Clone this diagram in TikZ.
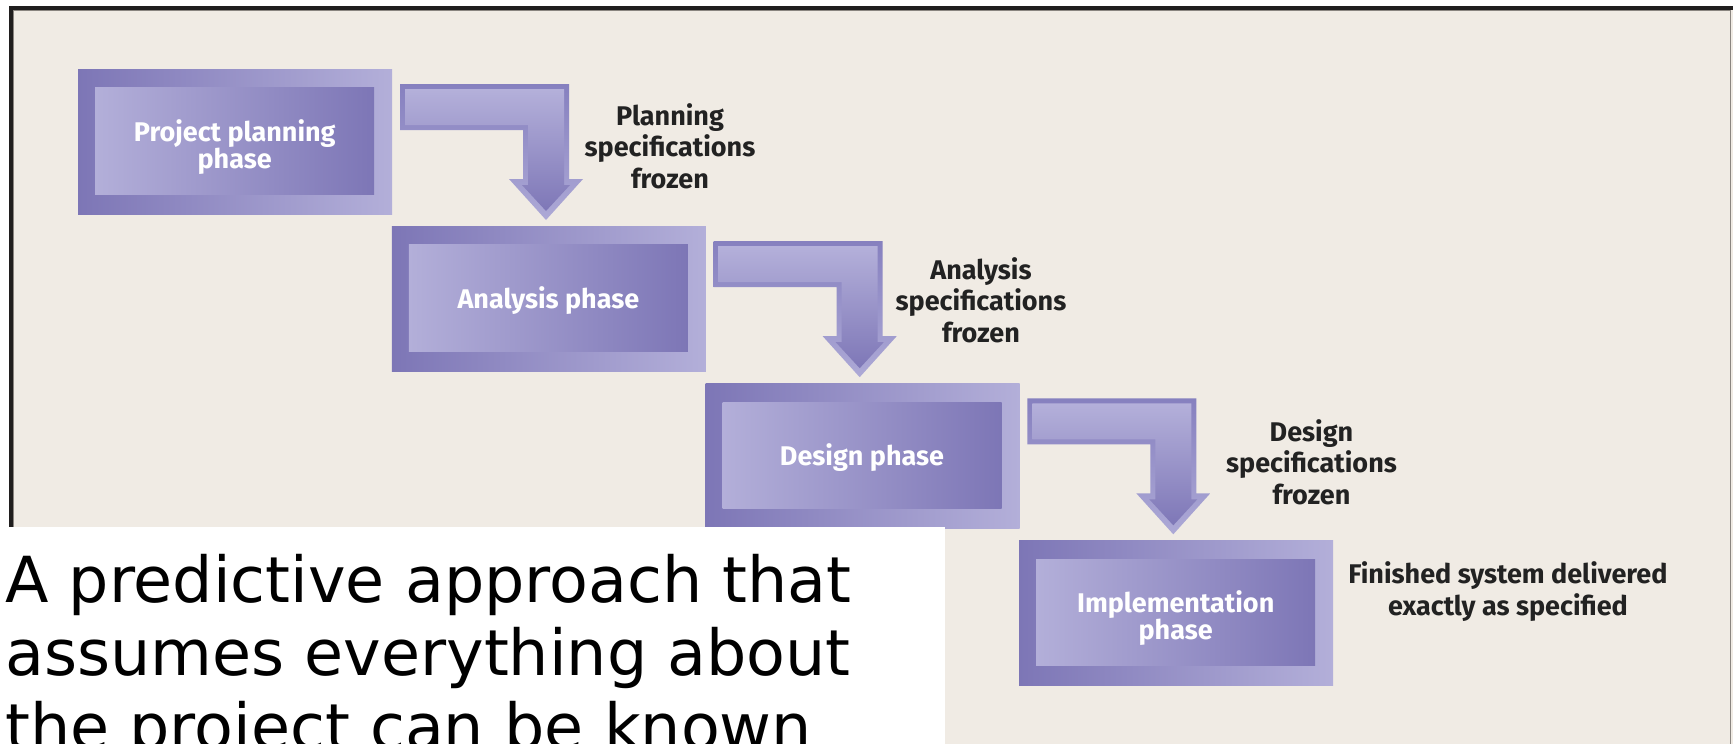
\documentclass[tikz,border=0pt]{standalone}
\usepackage{fontspec}
\setmainfont{Fira Sans}
\newfontfamily\bigfont{DejaVu Sans}
\usetikzlibrary{calc}
\definecolor{bg}{HTML}{F0EBE4}
\definecolor{pdark}{HTML}{7D76B6}
\definecolor{plight}{HTML}{B3AFD9}
\definecolor{abord}{HTML}{8680BF}
\definecolor{abordlight}{HTML}{ADA9D6}
\definecolor{ainlight}{HTML}{B4B0DA}
\definecolor{aindark}{HTML}{7E77B7}
\definecolor{txt}{HTML}{222222}
\definecolor{framedark}{HTML}{201E1E}
\definecolor{framegray}{HTML}{8A8580}
\tikzset{
  outerbox/.style={anchor=north west, minimum width=314pt, minimum height=145pt,
    inner sep=0pt, left color=pdark, right color=plight, draw=none},
  innerbox/.style={anchor=north west, minimum width=279pt, minimum height=106.5pt,
    inner sep=0pt, left color=plight, right color=pdark, draw=none},
  boxtext/.style={anchor=center, inner sep=0pt, text=white, align=center,
    font=\bfseries\fontsize{27}{27}\selectfont},
  lab/.style={anchor=base, align=center, text=txt, inner sep=0pt,
    font=\bfseries\fontsize{27}{31.5}\selectfont},
}
\newcommand\phasearrow[1]{%
  \begin{scope}[shift={(#1.north west)}]
    \path[top color=abord, bottom color=abordlight]
      (322,15) -- (491,15) -- (491,110) -- (505,110) -- (468,151)
      -- (431,110) -- (445,110) -- (445,61) -- (322,61) -- cycle;
    \path[top color=ainlight, bottom color=aindark]
      (327,20) -- (486,20) -- (486,116) -- (492,116) -- (468,142)
      -- (444,116) -- (450,116) -- (450,56) -- (327,56) -- cycle;
  \end{scope}}
\begin{document}
\begin{tikzpicture}[x=1pt,y=-1pt]
  \useasboundingbox (0,0) rectangle (1733,744);
  \clip (0,0) rectangle (1733,744);
  % frame and background
  \fill[white] (0,0) rectangle (1733,744);
  \fill[bg] (9,6) rectangle (1733,744);
  \draw[framegray, line width=1.5pt] (1730.5,6) -- (1730.5,744);
  \draw[framegray, line width=1pt] (13,10.5) -- (1730,10.5);
  \draw[framegray, line width=1pt] (13.5,10) -- (13.5,744);
  \fill[framedark] (9,6) rectangle (1733,10);
  \fill[framedark] (9,6) rectangle (13,744);
  % phase boxes
  \node[outerbox] (b1) at (78,69) {};
  \node[innerbox] (b1i) at ($(b1.north west)+(17,18.5)$) {};
  \node[boxtext] (b1t) at ($(b1i.center)+(0,6)$) {Project planning\\phase};
  \node[outerbox] (b2) at (391.7,226.2) {};
  \node[innerbox] (b2i) at ($(b2.north west)+(17,18.5)$) {};
  \node[boxtext] (b2t) at ($(b2i.center)+(0,2)$) {Analysis phase};
  \node[outerbox] (b3) at (705.3,383.3) {};
  \node[innerbox] (b3i) at ($(b3.north west)+(17,18.5)$) {};
  \node[boxtext] (b3t) at ($(b3i.center)+(0,2)$) {Design phase};
  \node[outerbox] (b4) at (1019,540.5) {};
  \node[innerbox] (b4i) at ($(b4.north west)+(17,18.5)$) {};
  \node[boxtext] (b4t) at ($(b4i.center)+(0,6)$) {Implementation\\phase};
  % arrows
  \phasearrow{b1}
  \phasearrow{b2}
  \phasearrow{b3}
  % labels (base anchor = baseline of last line)
  \node[lab] (l1) at (670,188) {Planning\\specifications\\frozen};
  \node[lab] (l2) at (981,342) {Analysis\\specifications\\frozen};
  \node[lab] (l3) at (1311.5,504) {Design\\specifications\\frozen};
  \node[lab] (l4) at (1508,615) {Finished system delivered\\exactly as specified};
  % white caption box
  \fill[white] (0,527) rectangle (945,744);
  \node[anchor=base west, align=left, inner sep=0pt,
    font=\bigfont\fontsize{63.5}{73.8}\selectfont] (cap) at (5,749.6)
    {A predictive approach that\\assumes everything about\\the project can be known};
\end{tikzpicture}
\end{document}
